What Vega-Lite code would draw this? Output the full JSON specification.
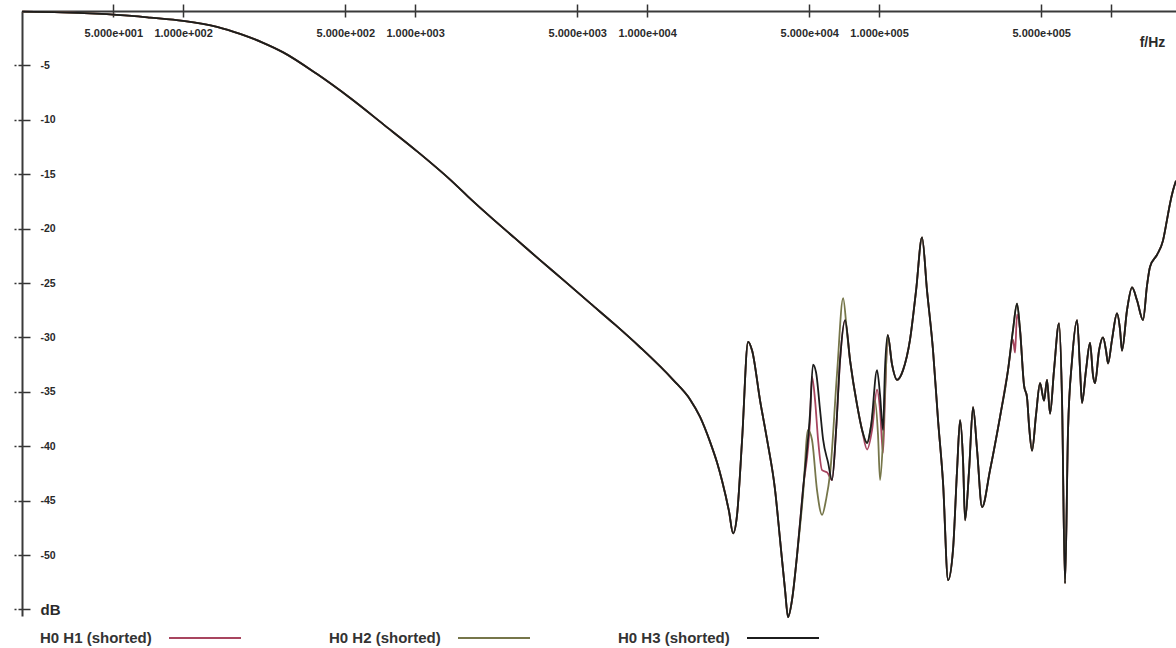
{
  "$schema": "https://vega.github.io/schema/vega-lite/v6.json",
  "autosize": {"type": "none"},
  "padding": {"left": 22, "top": 11, "right": 0, "bottom": 32},
  "width": 1154,
  "height": 605,
  "background": "white",
  "config": {
    "font": "Liberation Sans",
    "view": {"stroke": null}
  },
  "data": {
    "values": [
      {"f": 20.2, "db": -0.05, "s": ["1","2","3"]},
      {"f": 30, "db": -0.12, "s": ["1","2","3"]},
      {"f": 42, "db": -0.25, "s": ["1","2","3"]},
      {"f": 60, "db": -0.45, "s": ["1","2","3"]},
      {"f": 72, "db": -0.6, "s": ["1","2","3"]},
      {"f": 100, "db": -0.9, "s": ["1","2","3"]},
      {"f": 140, "db": -1.45, "s": ["1","2","3"]},
      {"f": 176, "db": -2.1, "s": ["1","2","3"]},
      {"f": 220, "db": -2.9, "s": ["1","2","3"]},
      {"f": 270, "db": -3.8, "s": ["1","2","3"]},
      {"f": 378, "db": -5.8, "s": ["1","2","3"]},
      {"f": 525, "db": -8.0, "s": ["1","2","3"]},
      {"f": 728, "db": -10.4, "s": ["1","2","3"]},
      {"f": 1020, "db": -12.9, "s": ["1","2","3"]},
      {"f": 1416, "db": -15.5, "s": ["1","2","3"]},
      {"f": 1700, "db": -17.1, "s": ["1","2","3"]},
      {"f": 2106, "db": -18.9, "s": ["1","2","3"]},
      {"f": 2700, "db": -20.9, "s": ["1","2","3"]},
      {"f": 3458, "db": -22.9, "s": ["1","2","3"]},
      {"f": 4400, "db": -24.8, "s": ["1","2","3"]},
      {"f": 5679, "db": -26.85, "s": ["1","2","3"]},
      {"f": 7300, "db": -28.85, "s": ["1","2","3"]},
      {"f": 9328, "db": -30.9, "s": ["1","2","3"]},
      {"f": 12950, "db": -33.9, "s": ["1","2","3"]},
      {"f": 15320, "db": -35.7, "s": ["1","2","3"]},
      {"f": 16920, "db": -37.3, "s": ["1","2","3"]},
      {"f": 18690, "db": -39.6, "s": ["1","2","3"]},
      {"f": 20030, "db": -41.5, "s": ["1","2","3"]},
      {"f": 21060, "db": -43.2, "s": ["1","2","3"]},
      {"f": 22560, "db": -46.0, "s": ["1","2","3"]},
      {"f": 23480, "db": -48.0, "s": ["1","2","3"]},
      {"f": 24430, "db": -46.3, "s": ["1","2","3"]},
      {"f": 25680, "db": -39.4, "s": ["1","2","3"]},
      {"f": 27250, "db": -30.4, "s": ["1","2","3"]},
      {"f": 28360, "db": -31.2, "s": ["1","2","3"]},
      {"f": 30700, "db": -35.8, "s": ["1","2","3"]},
      {"f": 32910, "db": -39.4, "s": ["1","2","3"]},
      {"f": 35620, "db": -44.0, "s": ["1","2","3"]},
      {"f": 37440, "db": -48.6, "s": ["1","2","3"]},
      {"f": 39330, "db": -53.2, "s": ["1","2","3"]},
      {"f": 40530, "db": -55.7, "s": ["1","2","3"]},
      {"f": 42170, "db": -54.1, "s": ["1","2","3"]},
      {"f": 44320, "db": -50.0, "s": ["1","2","3"]},
      {"f": 47000, "db": -44.0, "s": ["1","3"]},
      {"f": 47000, "db": -44.5, "s": ["2"]},
      {"f": 50400, "db": -37.0, "s": ["3"]},
      {"f": 51900, "db": -32.5, "s": ["3"]},
      {"f": 53500, "db": -33.2, "s": ["3"]},
      {"f": 55700, "db": -36.7, "s": ["3"]},
      {"f": 57400, "db": -39.4, "s": ["3"]},
      {"f": 60300, "db": -41.5, "s": ["3"]},
      {"f": 50400, "db": -37.6, "s": ["1"]},
      {"f": 51400, "db": -33.6, "s": ["1"]},
      {"f": 53000, "db": -35.8, "s": ["1"]},
      {"f": 54600, "db": -39.4, "s": ["1"]},
      {"f": 56800, "db": -42.2, "s": ["1"]},
      {"f": 59700, "db": -42.4, "s": ["1"]},
      {"f": 49400, "db": -38.5, "s": ["2"]},
      {"f": 51400, "db": -39.4, "s": ["2"]},
      {"f": 54000, "db": -44.0, "s": ["2"]},
      {"f": 56800, "db": -46.3, "s": ["2"]},
      {"f": 59100, "db": -44.9, "s": ["2"]},
      {"f": 61500, "db": -42.5, "s": ["2"]},
      {"f": 65900, "db": -33.3, "s": ["2"]},
      {"f": 70000, "db": -26.4, "s": ["2"]},
      {"f": 72800, "db": -29.6, "s": ["2"]},
      {"f": 62700, "db": -43.1, "s": ["1","3"]},
      {"f": 65300, "db": -38.5, "s": ["1","3"]},
      {"f": 67900, "db": -32.1, "s": ["1","3"]},
      {"f": 71400, "db": -28.4, "s": ["1","3"]},
      {"f": 75000, "db": -32.1, "s": ["1","2","3"]},
      {"f": 80400, "db": -36.2, "s": ["1","2","3"]},
      {"f": 84500, "db": -38.5, "s": ["1","2","3"]},
      {"f": 88800, "db": -39.7, "s": ["2","3"]},
      {"f": 92400, "db": -38.1, "s": ["2","3"]},
      {"f": 98000, "db": -33.0, "s": ["3"]},
      {"f": 101000, "db": -35.3, "s": ["3"]},
      {"f": 104000, "db": -38.5, "s": ["3"]},
      {"f": 106000, "db": -33.0, "s": ["3"]},
      {"f": 88800, "db": -40.3, "s": ["1"]},
      {"f": 93300, "db": -38.5, "s": ["1"]},
      {"f": 98000, "db": -34.8, "s": ["1"]},
      {"f": 101000, "db": -36.7, "s": ["1"]},
      {"f": 104000, "db": -40.6, "s": ["1"]},
      {"f": 106000, "db": -35.8, "s": ["1"]},
      {"f": 96100, "db": -35.8, "s": ["2"]},
      {"f": 99000, "db": -39.0, "s": ["2"]},
      {"f": 101000, "db": -43.1, "s": ["2"]},
      {"f": 104000, "db": -39.4, "s": ["2"]},
      {"f": 107000, "db": -33.0, "s": ["2"]},
      {"f": 109000, "db": -29.8, "s": ["1","2","3"]},
      {"f": 113800, "db": -32.5, "s": ["1","2","3"]},
      {"f": 119600, "db": -33.9, "s": ["1","2","3"]},
      {"f": 126900, "db": -33.0, "s": ["1","2","3"]},
      {"f": 136000, "db": -30.2, "s": ["1","2","3"]},
      {"f": 144400, "db": -25.7, "s": ["1","2","3"]},
      {"f": 153200, "db": -20.8, "s": ["1","2","3"]},
      {"f": 161000, "db": -25.7, "s": ["1","2","3"]},
      {"f": 170900, "db": -31.2, "s": ["1","2","3"]},
      {"f": 179600, "db": -37.6, "s": ["1","2","3"]},
      {"f": 188800, "db": -43.4, "s": ["1","2","3"]},
      {"f": 198400, "db": -52.3, "s": ["1","2","3"]},
      {"f": 208400, "db": -49.5, "s": ["1","2","3"]},
      {"f": 216900, "db": -42.2, "s": ["1","2","3"]},
      {"f": 223500, "db": -37.6, "s": ["1","2","3"]},
      {"f": 230200, "db": -41.3, "s": ["1","2","3"]},
      {"f": 234900, "db": -46.8, "s": ["1","2","3"]},
      {"f": 244400, "db": -42.2, "s": ["1","2","3"]},
      {"f": 254200, "db": -36.4, "s": ["1","2","3"]},
      {"f": 264500, "db": -40.3, "s": ["1","2","3"]},
      {"f": 278000, "db": -45.6, "s": ["1","2","3"]},
      {"f": 300900, "db": -42.2, "s": ["1","2","3"]},
      {"f": 332300, "db": -37.3, "s": ["1","2","3"]},
      {"f": 359700, "db": -33.0, "s": ["1","2","3"]},
      {"f": 378000, "db": -29.3, "s": ["2","3"]},
      {"f": 393400, "db": -26.9, "s": ["2","3"]},
      {"f": 378000, "db": -30.2, "s": ["1"]},
      {"f": 385700, "db": -31.4, "s": ["1"]},
      {"f": 393400, "db": -27.9, "s": ["1"]},
      {"f": 405300, "db": -29.3, "s": ["1","2","3"]},
      {"f": 421700, "db": -34.4, "s": ["1","2","3"]},
      {"f": 434400, "db": -35.5, "s": ["1","2","3"]},
      {"f": 443200, "db": -38.1, "s": ["1","2","3"]},
      {"f": 456600, "db": -40.4, "s": ["1","2","3"]},
      {"f": 475100, "db": -37.1, "s": ["1","2","3"]},
      {"f": 494300, "db": -34.2, "s": ["1","2","3"]},
      {"f": 514300, "db": -35.8, "s": ["1","2","3"]},
      {"f": 529800, "db": -33.9, "s": ["1","2","3"]},
      {"f": 545900, "db": -37.0, "s": ["1","2","3"]},
      {"f": 567900, "db": -33.0, "s": ["1","2","3"]},
      {"f": 596800, "db": -28.7, "s": ["1","2","3"]},
      {"f": 615000, "db": -35.8, "s": ["1","2","3"]},
      {"f": 633500, "db": -52.6, "s": ["1","2","3"]},
      {"f": 652700, "db": -38.5, "s": ["1","2","3"]},
      {"f": 679100, "db": -32.1, "s": ["1","2","3"]},
      {"f": 713900, "db": -28.4, "s": ["1","2","3"]},
      {"f": 735500, "db": -33.0, "s": ["1","2","3"]},
      {"f": 749900, "db": -36.0, "s": ["1","2","3"]},
      {"f": 780200, "db": -33.0, "s": ["1","2","3"]},
      {"f": 811900, "db": -30.5, "s": ["1","2","3"]},
      {"f": 836500, "db": -33.5, "s": ["1","2","3"]},
      {"f": 853200, "db": -34.2, "s": ["1","2","3"]},
      {"f": 887800, "db": -31.2, "s": ["1","2","3"]},
      {"f": 923700, "db": -30.0, "s": ["1","2","3"]},
      {"f": 951600, "db": -31.2, "s": ["1","2","3"]},
      {"f": 970800, "db": -32.4, "s": ["1","2","3"]},
      {"f": 1010000, "db": -30.2, "s": ["1","2","3"]},
      {"f": 1061000, "db": -27.8, "s": ["1","2","3"]},
      {"f": 1094000, "db": -29.3, "s": ["1","2","3"]},
      {"f": 1115000, "db": -31.2, "s": ["1","2","3"]},
      {"f": 1172000, "db": -27.5, "s": ["1","2","3"]},
      {"f": 1232000, "db": -25.4, "s": ["1","2","3"]},
      {"f": 1295000, "db": -26.6, "s": ["1","2","3"]},
      {"f": 1374000, "db": -28.4, "s": ["1","2","3"]},
      {"f": 1430000, "db": -25.2, "s": ["1","2","3"]},
      {"f": 1473000, "db": -23.5, "s": ["1","2","3"]},
      {"f": 1579000, "db": -22.4, "s": ["1","2","3"]},
      {"f": 1675000, "db": -21.1, "s": ["1","2","3"]},
      {"f": 1743000, "db": -19.2, "s": ["1","2","3"]},
      {"f": 1796000, "db": -17.7, "s": ["1","2","3"]},
      {"f": 1850000, "db": -16.5, "s": ["1","2","3"]},
      {"f": 1906000, "db": -15.6, "s": ["1","2","3"]}
    ]
  },
  "transform": [{"flatten": ["s"]}],
  "mark": {"type": "line", "strokeWidth": 1.8, "interpolate": "monotone"},
  "encoding": {
    "x": {
      "field": "f",
      "type": "quantitative",
      "scale": {"type": "log", "domain": [20.2, 1906000], "nice": false},
      "axis": {
        "orient": "top",
        "values": [50, 100, 500, 1000, 5000, 10000, 50000, 100000, 500000, 1000000],
        "labelExpr": "datum.value >= 999999 ? '' : format(datum.value / pow(10, floor(log(datum.value) / LN10 + 0.000001)), '.3f') + 'e+' + format(floor(log(datum.value) / LN10 + 0.000001), '03d')",
        "labelFontSize": 11,
        "labelFontWeight": "bold",
        "labelColor": "#2a2a2a",
        "labelBaseline": "top",
        "labelPadding": -23,
        "labelFlush": false,
        "labelOverlap": false,
        "tickSize": 7,
        "tickWidth": 1.5,
        "tickColor": "#333333",
        "domainColor": "#3a3a3a",
        "domainWidth": 2,
        "grid": true,
        "gridDash": [0, 599, 6, 5000],
        "gridColor": "#333333",
        "gridWidth": 1.5,
        "gridOpacity": 1,
        "title": "f/Hz",
        "titleX": 1130,
        "titleY": 31,
        "titleAlign": "center",
        "titleBaseline": "middle",
        "titleFontSize": 14,
        "titleFontWeight": "bold",
        "titleColor": "#2a2a2a"
      }
    },
    "y": {
      "field": "db",
      "type": "quantitative",
      "scale": {"domain": [-55.6, 0], "nice": false, "zero": false},
      "axis": {
        "orient": "left",
        "values": [-5, -10, -15, -20, -25, -30, -35, -40, -45, -50, -55],
        "labelExpr": "datum.value == -55 ? 'dB' : '-' + abs(datum.value)",
        "labelFontSize": {"condition": {"test": "datum.value == -55", "value": 15}, "value": 10.5},
        "labelFontWeight": "bold",
        "labelColor": "#2a2a2a",
        "labelAlign": "left",
        "labelPadding": -26,
        "labelBaseline": "middle",
        "tickSize": 8,
        "tickWidth": 1.5,
        "tickColor": "#333333",
        "tickDash": [4, 2],
        "domainColor": "#3a3a3a",
        "domainWidth": 2,
        "grid": true,
        "gridDash": [8, 5000],
        "gridColor": "#333333",
        "gridWidth": 1.5,
        "gridOpacity": 1,
        "title": null
      }
    },
    "color": {
      "field": "s",
      "type": "nominal",
      "scale": {"domain": ["1", "2", "3"], "range": ["#a8455f", "#76764a", "#1c1c1c"]},
      "legend": {
        "orient": "none",
        "legendX": 16,
        "legendY": 590,
        "direction": "horizontal",
        "title": null,
        "labelExpr": "'H0 H' + datum.label + ' (shorted)'",
        "labelFontSize": 15,
        "labelFontWeight": "bold",
        "labelColor": "#333333",
        "labelOffset": -202,
        "symbolOffset": 130,
        "symbolType": "stroke",
        "symbolSize": 5184,
        "symbolStrokeWidth": 2,
        "columnPadding": 82,
        "labelLimit": 300
      }
    }
  }
}
